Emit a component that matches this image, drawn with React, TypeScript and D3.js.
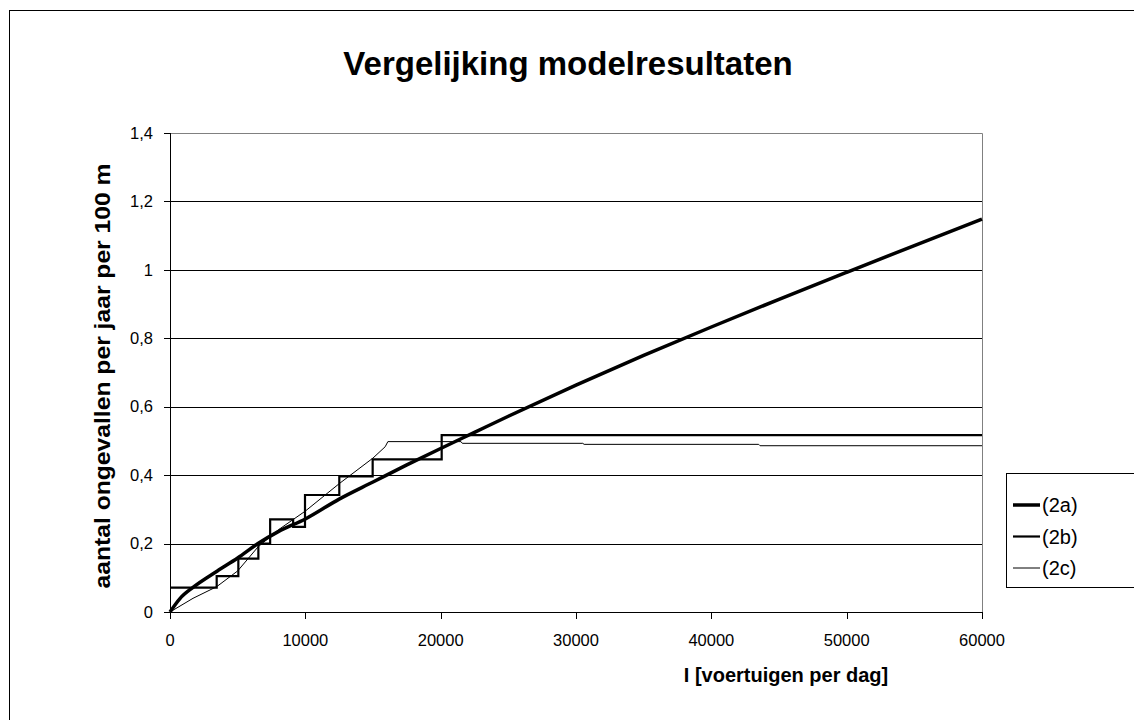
import * as d3 from "d3";

const xA = [0, 750, 1700, 3500, 5000, 6500, 8000, 10000, 12500, 15000, 17500, 20000, 22500, 25000, 30000, 35000, 40000, 45000, 50000, 55000, 60000];
const yA = [0, 0.04, 0.072, 0.12, 0.158, 0.2, 0.235, 0.272, 0.33, 0.38, 0.43, 0.478, 0.525, 0.572, 0.663, 0.75, 0.833, 0.914, 0.993, 1.071, 1.148];

// step series: level holds from each x until the next one
const xB = [0, 3450, 5050, 6530, 7400, 9100, 9975, 12510, 14975, 20075, 60000];
const yB = [0.071, 0.105, 0.156, 0.2, 0.271, 0.249, 0.342, 0.396, 0.446, 0.517, 0.517];

const xC = [0, 1700, 3450, 5000, 6500, 8000, 10000, 12500, 15000, 15900, 16100, 21500, 21600, 30500, 30600, 43500, 43600, 60000];
const yC = [0, 0.04, 0.074, 0.12, 0.19, 0.24, 0.295, 0.375, 0.45, 0.483, 0.498, 0.498, 0.493, 0.493, 0.49, 0.49, 0.486, 0.486];

const xTicks = [0, 10000, 20000, 30000, 40000, 50000, 60000];
const yTicks = [0, 0.2, 0.4, 0.6, 0.8, 1, 1.2, 1.4];
const legendLabels = ["(2a)", "(2b)", "(2c)"];
const legendWidths = [3.5, 2.2, 1];

const FONT = "'Liberation Sans', Arial, sans-serif";

export default function App() {
  const x = d3.scaleLinear().domain([0, 60000]).range([170, 982]);
  const y = d3.scaleLinear().domain([0, 1.4]).range([612, 133]);

  const smooth = d3.line<number>().x((d, i) => x(xA[i])).y((d) => y(d)).curve(d3.curveMonotoneX);
  const steps = d3.line<number>().x((d, i) => x(xB[i])).y((d) => y(d)).curve(d3.curveStepAfter);
  const thin = d3.line<number>().x((d, i) => x(xC[i])).y((d) => y(d));

  const fmt = (v: number) => String(Math.round(v * 10) / 10).replace(".", ",");

  return (
    <svg width={1134} height={720} style={{ position: "absolute", left: 0, top: 0, background: "#fff" }} fontFamily={FONT}>
      <rect x={9.5} y={10.5} width={1200} height={800} fill="#fff" stroke="#000" strokeWidth={1} />

      <text x={568} y={75} textAnchor="middle" fontSize={33} fontWeight="bold">Vergelijking modelresultaten</text>

      {/* grid */}
      {yTicks.slice(1, -1).map((t) => (
        <line key={t} x1={170} x2={982} y1={Math.round(y(t)) + 0.5} y2={Math.round(y(t)) + 0.5} stroke="#000" />
      ))}
      <line x1={170} x2={982.5} y1={133.5} y2={133.5} stroke="#808080" />
      <line x1={982.5} x2={982.5} y1={133.5} y2={612} stroke="#808080" />

      {/* axes */}
      <line x1={170.5} x2={170.5} y1={133} y2={612.5} stroke="#000" />
      <line x1={170} x2={982} y1={612.5} y2={612.5} stroke="#000" />
      {yTicks.map((t) => (
        <g key={t}>
          <line x1={164} x2={170} y1={Math.round(y(t)) + 0.5} y2={Math.round(y(t)) + 0.5} stroke="#000" />
          <text x={153} y={y(t)} dy="0.35em" textAnchor="end" fontSize={16.5}>{fmt(t)}</text>
        </g>
      ))}
      {xTicks.map((t) => (
        <g key={t}>
          <line x1={Math.round(x(t)) + 0.5} x2={Math.round(x(t)) + 0.5} y1={612} y2={619} stroke="#000" />
          <text x={x(t)} y={646} textAnchor="middle" fontSize={16.5}>{t}</text>
        </g>
      ))}

      <text x={786} y={682} textAnchor="middle" fontSize={20} fontWeight="bold">I [voertuigen per dag]</text>
      <text transform={`translate(110,376) rotate(-90)`} textAnchor="middle" fontSize={22} fontWeight="bold"
        textLength={425} lengthAdjust="spacingAndGlyphs">
        aantal ongevallen per jaar per 100 m
      </text>

      {/* series */}
      <path d={thin(yC) || ""} fill="none" stroke="#000" strokeWidth={1} />
      <path d={steps(yB) || ""} fill="none" stroke="#000" strokeWidth={2.2} />
      <path d={smooth(yA) || ""} fill="none" stroke="#000" strokeWidth={3.5} />

      {/* legend */}
      <rect x={1006.5} y={473.5} width={200} height={114} fill="#fff" stroke="#000" />
      {legendLabels.map((l, i) => (
        <g key={l}>
          <line x1={1013} x2={1040} y1={505 + i * 31.5} y2={505 + i * 31.5} stroke="#000" strokeWidth={legendWidths[i]} />
          <text x={1042} y={505 + i * 31.5} dy="0.35em" fontSize={20}>{l}</text>
        </g>
      ))}
    </svg>
  );
}
